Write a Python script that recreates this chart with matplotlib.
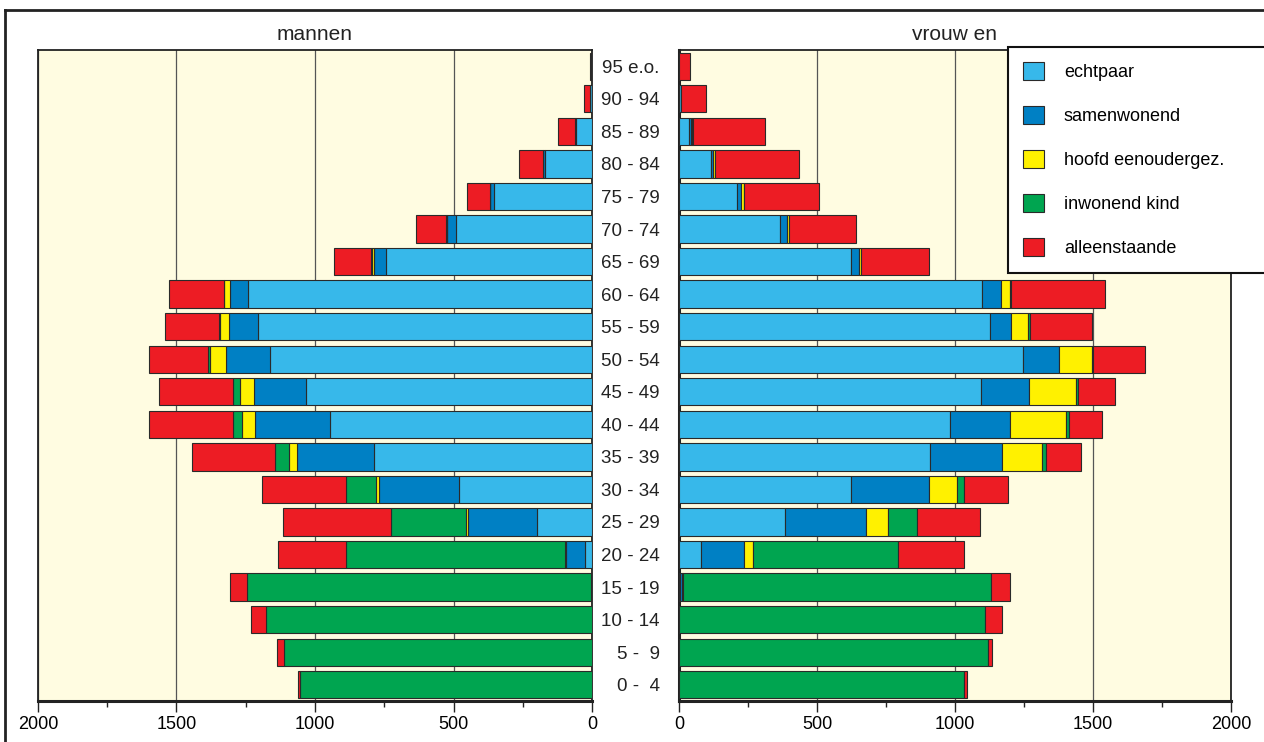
import matplotlib.pyplot as plt
from matplotlib.lines import Line2D
from matplotlib.patches import Patch
from matplotlib.ticker import MultipleLocator
import numpy as np

plt.rcParams['font.family'] = ['Liberation Sans', 'DejaVu Sans']

# age groups, youngest first
ages = ['0 -  4', '5 -  9', '10 - 14', '15 - 19', '20 - 24', '25 - 29', '30 - 34',
        '35 - 39', '40 - 44', '45 - 49', '50 - 54', '55 - 59', '60 - 64', '65 - 69',
        '70 - 74', '75 - 79', '80 - 84', '85 - 89', '90 - 94', '95 e.o.']

categories = ['echtpaar', 'samenwonend', 'hoofd eenoudergez.', 'inwonend kind', 'alleenstaande']

# mannen
echtpaar_m = [0, 0, 0, 0, 27, 199, 480, 787, 946, 1032, 1163, 1204, 1242, 743, 490, 353, 169, 57, 8, 2]
samen_m = [0, 0, 0, 0, 67, 247, 288, 278, 270, 188, 160, 105, 65, 44, 32, 14, 7, 3, 1, 0]
hoofd_m = [0, 0, 0, 2, 2, 9, 10, 30, 46, 51, 55, 33, 20, 8, 3, 2, 1, 1, 0, 0]
kind_m = [1055, 1113, 1176, 1244, 791, 271, 111, 48, 35, 25, 8, 5, 3, 2, 1, 1, 1, 0, 0, 0]
alleen_m = [7, 23, 55, 60, 246, 389, 303, 301, 301, 268, 213, 194, 196, 133, 108, 80, 86, 60, 20, 4]

# vrouwen
echtpaar_v = [0, 0, 0, 2, 80, 384, 622, 910, 982, 1093, 1248, 1128, 1097, 623, 366, 210, 116, 38, 8, 0]
samen_v = [0, 0, 0, 8, 156, 295, 284, 262, 217, 176, 127, 75, 68, 29, 25, 14, 8, 5, 0, 0]
hoofd_v = [0, 0, 0, 5, 33, 77, 102, 145, 202, 171, 123, 63, 36, 8, 8, 10, 7, 5, 0, 0]
kind_v = [1031, 1118, 1109, 1117, 524, 108, 26, 12, 12, 5, 3, 5, 2, 1, 1, 1, 1, 1, 0, 0]
alleen_v = [14, 16, 60, 66, 238, 227, 157, 128, 120, 133, 186, 225, 339, 244, 241, 271, 302, 261, 91, 40]

colors = ['#37B8EA', '#0080C4', '#FFF100', '#00A550', '#ED1C24']
cream = '#FFFCE1'
edge = '#2a2a2a'

W, H = 1264, 742
fig = plt.figure(figsize=(W / 100, H / 100), dpi=100)
ax1 = fig.add_axes([38 / W, 1 - 701 / H, (592 - 38) / W, 651 / H])
ax2 = fig.add_axes([679 / W, 1 - 701 / H, (1231 - 679) / W, 651 / H])

y = np.arange(len(ages))


def draw_side(ax, series):
    left = np.zeros(len(ages))
    for vals, col in zip(series, colors):
        vals = np.array(vals, dtype=float)
        ax.barh(y, vals, left=left, height=0.84, color=col, edgecolor=edge, linewidth=0.8, zorder=3)
        left += vals
    ax.set_facecolor(cream)
    ax.set_ylim(-0.5, len(ages) - 0.5)
    ax.xaxis.set_major_locator(MultipleLocator(500))
    ax.xaxis.set_minor_locator(MultipleLocator(250))
    ax.grid(axis='x', which='major', color='#555555', linewidth=0.9, zorder=1)
    ax.tick_params(axis='x', which='major', direction='out', length=8, width=1, labelsize=13, pad=3, color='#222222')
    ax.tick_params(axis='x', which='minor', direction='out', length=4.5, width=1, color='#222222')
    for s in ax.spines.values():
        s.set_color('#222222')
        s.set_linewidth(1.3)
    ax.spines['bottom'].set_linewidth(2.2)


draw_side(ax1, [echtpaar_m, samen_m, hoofd_m, kind_m, alleen_m])
draw_side(ax2, [echtpaar_v, samen_v, hoofd_v, kind_v, alleen_v])

ax1.set_xlim(2000, 0)
ax2.set_xlim(0, 2000)
ax1.set_yticks([])
ax2.spines['left'].set_linewidth(2.2)
ax2.set_yticks(y, ages)
ax2.tick_params(axis='y', length=0, pad=14, labelsize=13.5, labelcolor='#222222')

fig.text(315 / W, 1 - 34 / H, 'mannen', ha='center', va='center', fontsize=15, color='#222222')
fig.text(955 / W, 1 - 34 / H, 'vrouw en', ha='center', va='center', fontsize=15, color='#222222')

# outer frame of the original figure
fig.add_artist(Line2D([5 / W, 5 / W], [0, 1 - 10 / H], color='#222222', lw=2))
fig.add_artist(Line2D([5 / W, 1], [1 - 10 / H, 1 - 10 / H], color='#222222', lw=2))

handles = [Patch(facecolor=c, edgecolor=edge, linewidth=0.8) for c in colors]
leg = fig.legend(handles, categories, loc='upper left',
                 bbox_to_anchor=(1008 / W, 1 - 271 / H, (1290 - 1008) / W, 224 / H), mode='expand',
                 frameon=True, fancybox=False, framealpha=1, edgecolor='#111111', fontsize=13,
                 handlelength=1.15, handleheight=1.15, handletextpad=1.1, labelspacing=1.38,
                 borderpad=0.85, borderaxespad=0)
leg.get_frame().set_linewidth(1.5)

fig.savefig('out.png', dpi=100, facecolor='white')
